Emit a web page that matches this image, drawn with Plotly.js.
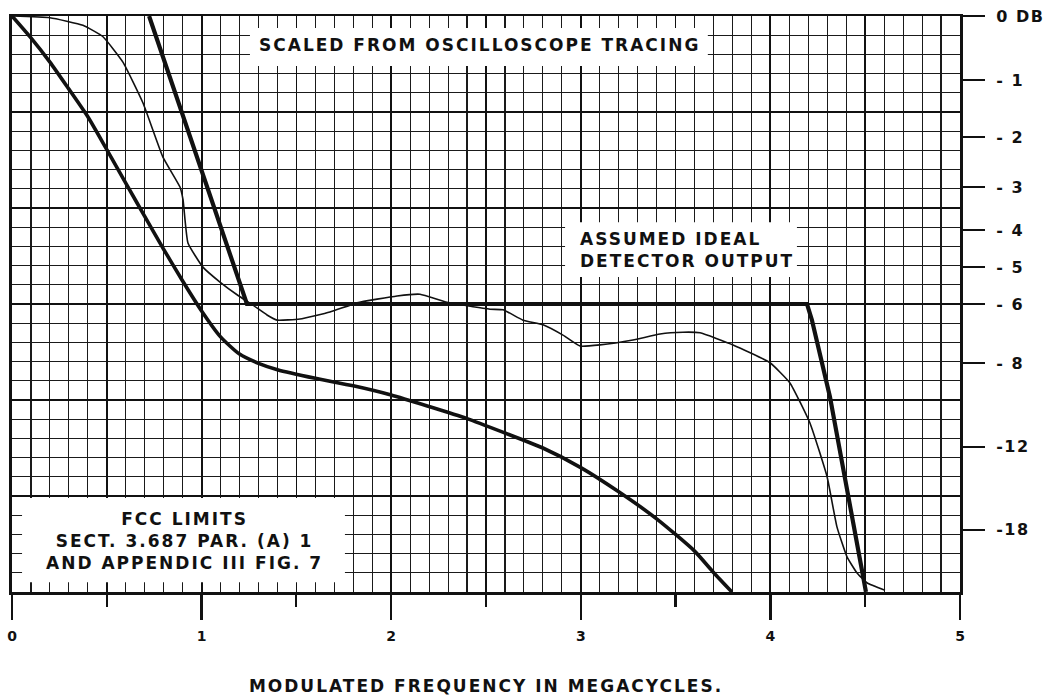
<!DOCTYPE html>
<html><head><meta charset="utf-8">
<script src="https://cdn.plot.ly/plotly-3.0.1.min.js"></script>
<style>
html,body{margin:0;padding:0;background:#fff;}
#chart{width:1060px;height:698px;}
.annotation-text, .xtitle { letter-spacing: 2px; }
.ytick text { letter-spacing: 1.5px; }
</style></head><body><div id="chart"></div>
<script>
// Modulated frequency in megacycles vs. relative amplitude (linear, 1.0 = 0 DB)
const idealFreq = [0.723, 1.239, 4.193, 4.219, 4.314, 4.404, 4.504];
const idealAmp  = [1.0,   0.5,   0.5,   0.472, 0.339, 0.177, 0.0];

const scopeFreq = [0, 0.20, 0.374, 0.48, 0.585, 0.691, 0.796, 0.886, 0.902, 0.928, 1.007, 1.097, 1.187, 1.271,
  1.345, 1.398, 1.519, 1.677, 1.82, 2.031, 2.152, 2.294, 2.521, 2.59, 2.695, 2.801, 2.906, 2.996, 3.101,
  3.275, 3.418, 3.539, 3.629, 3.803, 3.998, 4.103, 4.209, 4.299, 4.351, 4.404, 4.457, 4.509, 4.604];
const scopeAmp  = [1.0, 0.997, 0.984, 0.964, 0.92, 0.849, 0.755, 0.703, 0.681, 0.606, 0.564, 0.538, 0.516, 0.498,
  0.481, 0.472, 0.474, 0.486, 0.502, 0.514, 0.517, 0.503, 0.491, 0.49, 0.472, 0.464, 0.446, 0.427, 0.429,
  0.4375, 0.448, 0.451, 0.45, 0.429, 0.398, 0.363, 0.293, 0.2, 0.113, 0.061, 0.033, 0.016, 0.003];

const fccFreq = [0, 0.1, 0.2, 0.3, 0.4, 0.5, 0.6, 0.7, 0.8, 0.9, 1.0, 1.1, 1.2, 1.3, 1.4,
  1.6, 1.8, 2.0, 2.2, 2.4, 2.6, 2.8, 3.0, 3.2, 3.4, 3.6, 3.7, 3.797];
const fccAmp  = [1.0, 0.962, 0.92, 0.873, 0.825, 0.768, 0.71, 0.652, 0.595, 0.54, 0.488, 0.443, 0.413, 0.397, 0.386,
  0.371, 0.358, 0.342, 0.322, 0.301, 0.276, 0.25, 0.216, 0.174, 0.127, 0.071, 0.034, 0.0];

const dbTickAmp  = [1.0, 0.889, 0.790, 0.703, 0.628, 0.564, 0.5, 0.3976, 0.252, 0.108];
const dbTickText = ['0 DB', '- 1', '- 2', '- 3', '- 4', '- 5', '- 6', '- 8', '-12', '-18'];
const freqTicks  = [0, 1, 2, 3, 4, 5];
const freqText   = ['0', '1', '2', '3', '4', '5'];
const halfTicks  = [0.5, 1.5, 2.5, 3.5, 4.5];
const heavyRows  = [1/6, 1/3, 1/2, 2/3, 5/6];

const FONT = 'DejaVu Sans, Liberation Sans, sans-serif';

const traces = [
  {x: fccFreq, y: fccAmp, mode: 'lines', line: {color: '#111', width: 3.6, shape: 'spline', smoothing: 0.6}, hoverinfo: 'skip'},
  {x: scopeFreq, y: scopeAmp, mode: 'lines', line: {color: '#111', width: 1.6, shape: 'spline', smoothing: 0.4}, hoverinfo: 'skip'},
  {x: idealFreq, y: idealAmp, mode: 'lines', line: {color: '#111', width: 4.2, shape: 'linear'}, hoverinfo: 'skip'},
  {x: [], y: [], xaxis: 'x2', yaxis: 'y', showlegend: false},
  {x: [], y: [], xaxis: 'x', yaxis: 'y2', showlegend: false}
];

const boxes = [
  {x0: 1.255, x1: 3.67, y0: 0.913, y1: 0.979},
  {x0: 2.917, x1: 4.14, y0: 0.547, y1: 0.642},
  {x0: 0.053, x1: 1.756, y0: 0.017, y1: 0.163}
].map(b => Object.assign({type: 'rect', xref: 'x', yref: 'y', layer: 'above',
  fillcolor: '#fff', line: {width: 0}}, b));

const layout = {
  width: 1060, height: 698,
  margin: {l: 12, r: 100, t: 16, b: 106},
  paper_bgcolor: '#fff', plot_bgcolor: '#fff',
  showlegend: false,
  font: {family: FONT, color: '#111', weight: 'bold'},
  xaxis: {
    range: [0, 5], tickmode: 'array', tickvals: freqTicks, ticktext: freqText,
    ticks: 'outside', ticklen: 25, tickwidth: 2.5, tickcolor: '#111', ticklabelstandoff: 5,
    showline: true, linewidth: 2.5, linecolor: '#111', mirror: true,
    showgrid: true, gridcolor: '#111', gridwidth: 2, zeroline: false,
    minor: {tickmode: 'linear', tick0: 0, dtick: 0.1, showgrid: true, gridcolor: '#1a1a1a', gridwidth: 1.1, ticks: ''},
    tickfont: {family: FONT, size: 14, color: '#111', weight: 'bold'},
    title: {text: 'MODULATED FREQUENCY IN MEGACYCLES.', standoff: 37,
      font: {family: FONT, size: 17, color: '#111', weight: 'bold'}},
    automargin: false, fixedrange: true
  },
  xaxis2: {
    range: [0, 5], overlaying: 'x', anchor: 'y', side: 'bottom',
    tickmode: 'array', tickvals: halfTicks, showticklabels: false,
    ticks: 'outside', ticklen: 14, tickwidth: 2.2, tickcolor: '#111',
    showgrid: true, gridcolor: '#111', gridwidth: 1.7, zeroline: false, showline: false,
    automargin: false, fixedrange: true
  },
  yaxis: {
    range: [0, 1], side: 'right', tickmode: 'array', tickvals: dbTickAmp, ticktext: dbTickText,
    ticks: 'outside', ticklen: 22, tickwidth: 2.2, tickcolor: '#111',
    showline: true, linewidth: 3, linecolor: '#111', mirror: true,
    showgrid: false, zeroline: false, ticklabelstandoff: 8,
    minor: {tickmode: 'linear', tick0: 0, dtick: 1/30, showgrid: true, gridcolor: '#1a1a1a', gridwidth: 1.1, ticks: ''},
    tickfont: {family: FONT, size: 16, color: '#111', weight: 'bold'},
    automargin: false, fixedrange: true
  },
  yaxis2: {
    range: [0, 1], overlaying: 'y', anchor: 'x', side: 'left',
    tickmode: 'array', tickvals: heavyRows, showticklabels: false, ticks: '',
    showgrid: true, gridcolor: '#111', gridwidth: 1.8, zeroline: false, showline: false,
    automargin: false, fixedrange: true
  },
  shapes: boxes,
  annotations: [
    {xref: 'x', yref: 'y', x: 2.468, y: 0.95, xanchor: 'center', yanchor: 'middle', showarrow: false,
     text: 'SCALED FROM OSCILLOSCOPE TRACING', font: {family: FONT, size: 17, color: '#111', weight: 'bold'}},
    {xref: 'x', yref: 'y', x: 2.985, y: 0.593, xanchor: 'left', yanchor: 'middle', showarrow: false, align: 'left',
     text: 'ASSUMED IDEAL<br>DETECTOR OUTPUT', font: {family: FONT, size: 17, color: '#111', weight: 'bold'}},
    {xref: 'x', yref: 'y', x: 0.912, y: 0.088, xanchor: 'center', yanchor: 'middle', showarrow: false, align: 'center',
     text: 'FCC LIMITS<br>SECT. 3.687 PAR. (A) 1<br>AND APPENDIC III FIG. 7', font: {family: FONT, size: 17, color: '#111', weight: 'bold'}}
  ]
};

Plotly.newPlot('chart', traces, layout, {displayModeBar: false, staticPlot: true});
</script></body></html>
